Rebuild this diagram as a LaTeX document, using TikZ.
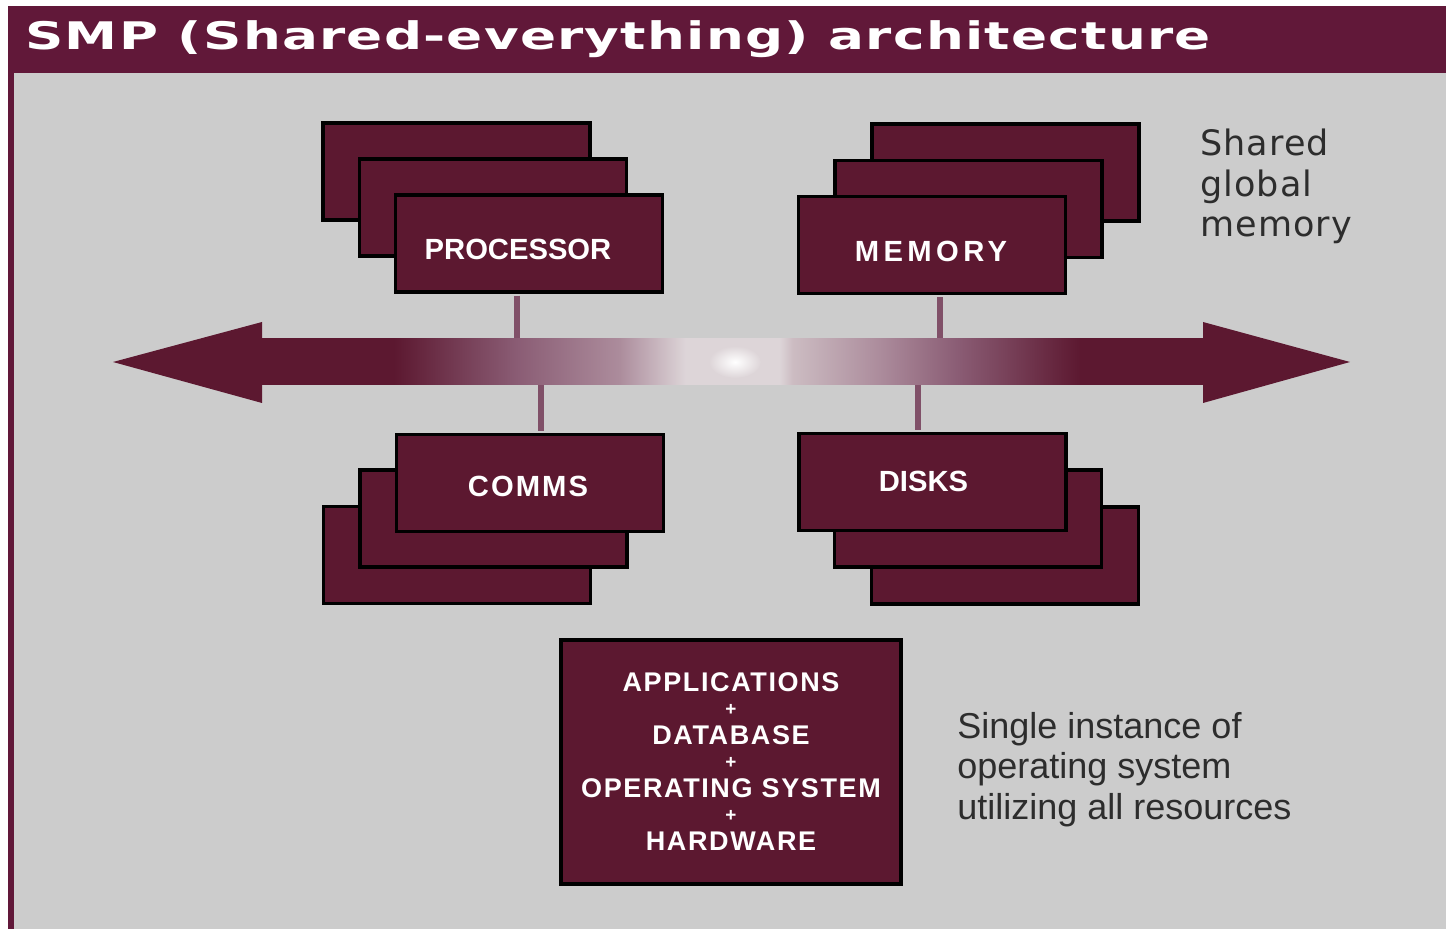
\documentclass[tikz,border=0pt]{standalone}
\usepackage{fontspec}
\setmainfont{Liberation Sans}
\newfontfamily\titlefont[FakeStretch=1.4,LetterSpace=3.3]{DejaVu Sans}
\newfontfamily\labelfont{Liberation Sans}
\newfontfamily\midlabelfont[LetterSpace=7]{Liberation Sans}
\newfontfamily\widelabelfont[LetterSpace=15]{Liberation Sans}
\newfontfamily\stackfont[LetterSpace=6]{Liberation Sans}
\newfontfamily\notefont[LetterSpace=3]{DejaVu Sans}
\usepackage{graphicx}
\usetikzlibrary{positioning, calc}
\definecolor{Maroon}{RGB}{97,24,57}
\definecolor{BoxRed}{RGB}{92,24,48}
\definecolor{PanelGray}{RGB}{204,204,204}
\definecolor{LinkMauve}{RGB}{128,80,104}
\definecolor{Glow}{RGB}{221,213,216}
\definecolor{FadeA}{RGB}{138,92,116}
\definecolor{FadeB}{RGB}{172,140,156}
\definecolor{FadeC}{RGB}{204,188,194}
\definecolor{NoteText}{RGB}{45,45,45}

% fading bus: dark ends, light middle
\pgfdeclarehorizontalshading{busfade}{100bp}{color(0bp)=(BoxRed); color(32bp)=(BoxRed); color(38.5bp)=(FadeA); color(44bp)=(FadeB); color(47.5bp)=(Glow); color(52.5bp)=(Glow); color(53.2bp)=(FadeC); color(57.8bp)=(FadeB); color(62bp)=(FadeA); color(68.5bp)=(BoxRed); color(100bp)=(BoxRed)}

\begin{document}
\begin{tikzpicture}[x=0.5pt, y=-0.5pt,
    card/.style={draw=black, line width=1.8pt, fill=BoxRed, minimum width=133.5pt, minimum height=48.5pt, inner sep=0pt},
    cardtext/.style={text=white, font=\labelfont\bfseries\fontsize{14.6}{16}\selectfont, inner sep=0pt, anchor=base},
    link/.style={LinkMauve, line width=3.2pt},
    note/.style={text=NoteText, align=left, anchor=north west, inner sep=0pt}]

    % Frame, panel and title bar
    \fill[white] (0,0) rectangle (1446,929);
    \useasboundingbox (0,0) rectangle (1446,929);
    \fill[PanelGray] (14,73) rectangle (1446,929);
    \fill[Maroon] (8,6) rectangle (1446,73);
    \fill[Maroon] (8,73) rectangle (14,929);
    \node[anchor=base west, inner sep=0pt, text=white, font=\titlefont\bfseries\fontsize{19}{22}\selectfont] (title) at (25,50) {SMP (Shared-everything) architecture};

    % Processor stack
    \node[card] (proc1) at (456.5,171.5) {};
    \node[card] (proc2) at (493,207.5) {};
    \node[card] (proc3) at (529,243.5) {};
    \node[cardtext] (proclabel) at (518,260) {PROCESSOR};

    % Memory stack
    \node[card] (mem1) at (1005.5,172.5) {};
    \node[card] (mem2) at (968.5,209) {};
    \node[card] (mem3) at (932,245) {};
    \node[cardtext, font=\widelabelfont\bfseries\fontsize{14.6}{16}\selectfont] (memlabel) at (931,262) {MEMORY};

    % Comms stack
    \node[card] (comms1) at (457,555) {};
    \node[card] (comms2) at (493.5,518.5) {};
    \node[card] (comms3) at (530,483) {};
    \node[cardtext, font=\midlabelfont\bfseries\fontsize{14.6}{16}\selectfont] (commslabel) at (528,497) {COMMS};

    % Disks stack
    \node[card] (disks1) at (1005,555.5) {};
    \node[card] (disks2) at (968,518.5) {};
    \node[card] (disks3) at (932.5,482) {};
    \node[cardtext] (diskslabel) at (923.5,492) {DISKS};

    % Ports on the bus
    \coordinate (procport) at (517,362);
    \coordinate (commsport) at (541,362);
    \coordinate (memport) at (940,362);
    \coordinate (disksport) at (918,362);

    \draw[link, shorten <=0.9pt] (proc3.south -| procport) -- (procport);
    \draw[link, shorten <=0.9pt] (comms3.north -| commsport) -- (commsport);
    \draw[link, shorten <=0.9pt] (mem3.south -| memport) -- (memport);
    \draw[link, shorten <=0.9pt] (disks3.north -| disksport) -- (disksport);

    % Shared bus, double arrow
    \fill[BoxRed] (113,362) -- (262,322) -- (262,339) -- (1203,339) -- (1203,322) -- (1350,362)
        -- (1203,403) -- (1203,385) -- (262,385) -- (262,403) -- cycle;
    \shade[shading=busfade] (262,339) rectangle (1203,385);
    \shade[inner color=white, outer color=Glow] (735,362) ellipse (13pt and 8pt);

    % Software stack
    \node[card, minimum width=170pt, minimum height=122pt, text=white, align=center,
        font=\stackfont\bfseries\fontsize{13.5}{13.25}\selectfont] (stack) at (731,762)
        {APPLICATIONS\\ \raisebox{1.5pt}{\scalebox{0.7}{+}}\\ DATABASE\\ \raisebox{1.5pt}{\scalebox{0.7}{+}}\\ OPERATING SYSTEM\\ \raisebox{1.5pt}{\scalebox{0.7}{+}}\\ HARDWARE};

    % Notes
    \node[note, font=\notefont\fontsize{17.5}{20.25}\selectfont] (sharednote) at (1200,129) {Shared\\global\\memory};
    \node[note, font=\fontsize{18}{20.25}\selectfont] (osnote) at (957,712) {Single instance of\\operating system\\utilizing all resources};
\end{tikzpicture}
\end{document}
